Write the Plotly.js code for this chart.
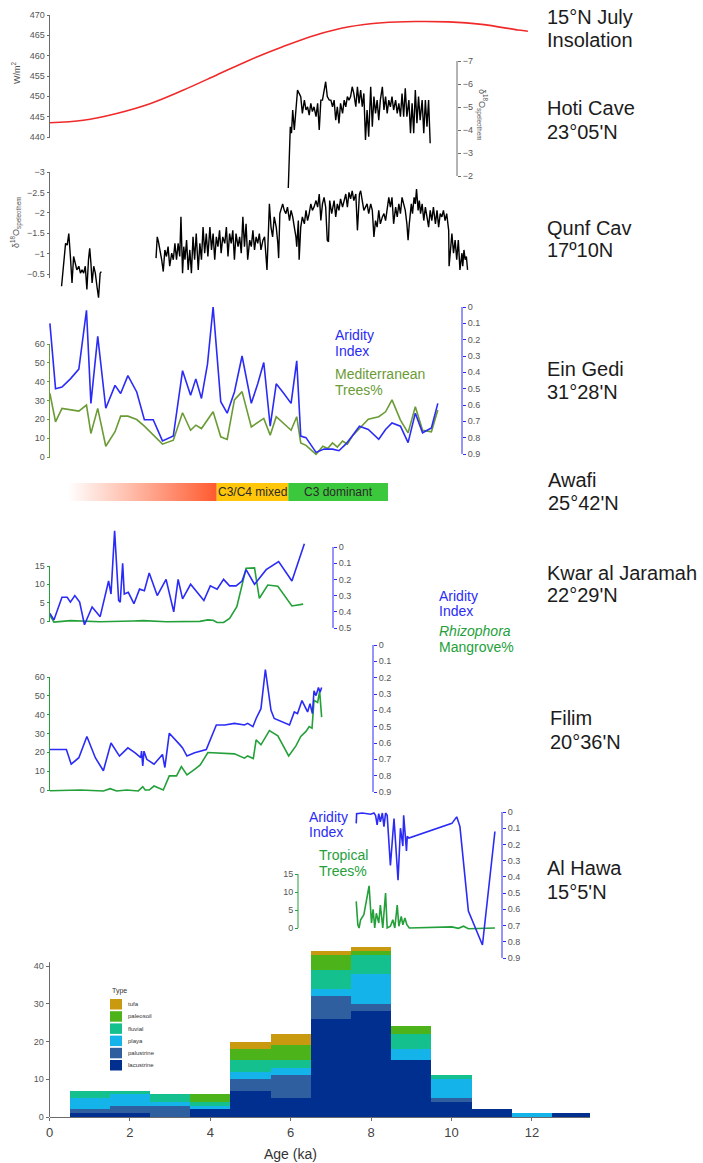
<!DOCTYPE html>
<html><head><meta charset="utf-8">
<script src="https://cdn.plot.ly/plotly-3.0.1.min.js"></script>
<style>html,body{margin:0;padding:0;background:#fff}#chart{width:703px;height:1163px}</style>
</head><body><div id="chart"></div>
<script>
// ================= DATA =================
// 15°N July insolation (W/m²)
const insolAge = [0,0.84,1.67,2.5,3.32,4.15,4.97,5.8,6.63,7.45,8.28,9.1,9.93,10.75,11.66,11.9];
const insolWm2 = [443.5,444.1,445.8,448.2,451.5,455.2,458.9,462.2,465.1,467.1,468.1,468.4,468.3,467.7,466.3,466.0];

// Hoti Cave δ18O
const hotiAge = [5.94,5.96,5.99,6.02,6.05,6.09,6.13,6.17,6.21,6.25,6.29,6.34,6.38,6.42,6.46,6.50,6.54,6.58,6.63,6.67,6.71,6.75,6.79,6.83,6.87,6.91,6.96,7.00,7.04,7.08,7.12,7.16,7.20,7.24,7.29,7.33,7.37,7.41,7.45,7.49,7.53,7.57,7.62,7.66,7.70,7.74,7.78,7.82,7.86,7.90,7.94,7.99,8.03,8.07,8.11,8.15,8.19,8.23,8.28,8.32,8.36,8.40,8.44,8.48,8.52,8.56,8.61,8.65,8.69,8.73,8.77,8.81,8.85,8.89,8.94,8.98,9.02,9.06,9.10,9.14,9.18,9.22,9.27,9.31,9.35,9.39,9.43,9.47];
const hotiD18O = [-1.48,-3.13,-4.14,-3.86,-4.87,-4.00,-4.87,-5.74,-5.59,-5.45,-4.72,-5.30,-4.87,-5.01,-4.65,-5.16,-4.80,-5.01,-4.58,-5.16,-4.00,-5.30,-5.30,-5.74,-6.10,-5.45,-5.30,-5.30,-5.01,-5.30,-4.43,-5.01,-4.29,-5.16,-4.72,-5.30,-5.01,-5.45,-5.30,-5.45,-5.88,-5.59,-5.01,-5.88,-5.16,-5.74,-5.01,-5.59,-3.57,-4.87,-3.71,-5.88,-4.14,-5.45,-4.72,-5.30,-4.43,-5.30,-5.88,-4.87,-5.45,-4.72,-5.30,-5.01,-5.45,-4.87,-5.30,-4.72,-5.16,-4.58,-5.59,-4.58,-5.81,-4.58,-5.30,-3.86,-5.16,-3.86,-5.74,-4.29,-5.45,-4.43,-5.30,-3.86,-5.30,-4.14,-5.30,-3.42];

// Qunf Cave δ18O, [age, value]
const qunfEarly = [[0.30,-0.20],[0.35,-0.69],[0.40,-1.25],[0.44,-1.21],[0.48,-1.49],[0.52,-0.93],[0.56,-0.28],[0.60,-0.93],[0.64,-0.77],[0.68,-0.60],[0.73,-0.69],[0.77,-0.52],[0.81,-0.60],[0.85,-0.52],[0.89,-0.69],[0.93,-0.12],[0.97,-0.85],[1.00,-1.13],[1.03,-0.77],[1.06,-0.28],[1.10,-0.69],[1.14,-0.52],[1.18,-0.20],[1.22,0.08],[1.26,-0.52],[1.29,-0.56]];
const qunfLate = [[2.65,-0.89],[2.68,-1.41],[2.71,-1.29],[2.75,-1.09],[2.79,-0.85],[2.83,-0.56],[2.87,-1.09],[2.91,-0.93],[2.95,-1.17],[2.99,-0.69],[3.04,-1.01],[3.08,-0.85],[3.12,-1.25],[3.16,-0.85],[3.20,-1.25],[3.24,-0.93],[3.27,-1.90],[3.31,-0.52],[3.34,-1.17],[3.37,-0.85],[3.41,-1.33],[3.45,-0.60],[3.49,-1.09],[3.53,-0.52],[3.57,-1.41],[3.61,-0.85],[3.65,-1.49],[3.70,-0.60],[3.74,-1.25],[3.78,-0.85],[3.82,-1.65],[3.86,-1.01],[3.90,-1.49],[3.94,-0.93],[3.99,-1.65],[4.03,-1.09],[4.07,-1.49],[4.11,-0.85],[4.15,-1.41],[4.19,-1.17],[4.23,-1.57],[4.27,-1.01],[4.31,-1.41],[4.36,-1.25],[4.40,-1.65],[4.44,-0.93],[4.48,-1.49],[4.52,-1.25],[4.56,-1.57],[4.60,-0.85],[4.64,-1.49],[4.69,-1.17],[4.73,-1.41],[4.77,-1.01],[4.81,-1.90],[4.85,-1.17],[4.89,-1.73],[4.93,-0.85],[4.98,-1.33],[5.02,-1.17],[5.06,-1.57],[5.10,-1.09],[5.14,-1.41],[5.18,-1.25],[5.22,-1.49],[5.26,-1.09],[5.31,-1.33],[5.35,-1.41],[5.39,-0.93],[5.41,-0.60],[5.45,-1.65],[5.47,-2.22],[5.51,-1.65],[5.55,-1.41],[5.59,-1.90],[5.64,-1.65],[5.68,-1.25],[5.70,-0.89],[5.73,-1.98],[5.78,-2.14],[5.80,-2.22],[5.84,-2.06],[5.88,-1.98],[5.92,-2.14],[5.97,-1.81],[6.01,-2.06],[6.05,-1.90],[6.09,-1.65],[6.13,-1.41],[6.15,-1.17],[6.19,-1.81],[6.21,-0.85],[6.25,-1.65],[6.29,-1.90],[6.34,-1.73],[6.38,-2.06],[6.42,-1.81],[6.46,-1.98],[6.50,-2.22],[6.54,-2.06],[6.58,-2.14],[6.63,-2.30],[6.67,-2.14],[6.71,-2.46],[6.75,-1.81],[6.79,-2.22],[6.83,-2.38],[6.87,-2.14],[6.91,-1.33],[6.94,-1.29],[6.97,-2.30],[7.02,-1.98],[7.08,-2.30],[7.12,-1.90],[7.16,-2.22],[7.20,-2.06],[7.24,-2.34],[7.29,-2.14],[7.33,-2.30],[7.37,-2.46],[7.41,-2.14],[7.45,-2.50],[7.49,-2.34],[7.53,-2.54],[7.57,-2.30],[7.62,-2.46],[7.66,-1.57],[7.68,-1.98],[7.71,-2.46],[7.74,-2.54],[7.78,-2.30],[7.82,-2.06],[7.86,-2.14],[7.90,-2.22],[7.94,-1.98],[7.99,-2.22],[8.03,-2.06],[8.07,-1.41],[8.11,-1.81],[8.15,-1.65],[8.19,-2.06],[8.23,-1.73],[8.28,-1.90],[8.32,-1.98],[8.36,-1.81],[8.40,-2.06],[8.44,-2.38],[8.48,-2.14],[8.52,-2.38],[8.56,-1.73],[8.61,-2.14],[8.65,-1.90],[8.69,-2.22],[8.73,-1.98],[8.77,-2.38],[8.81,-2.22],[8.85,-2.06],[8.89,-1.73],[8.92,-1.33],[8.95,-1.73],[9.00,-2.22],[9.03,-1.98],[9.07,-2.38],[9.10,-2.22],[9.13,-2.58],[9.17,-2.06],[9.20,-2.30],[9.23,-1.98],[9.27,-2.22],[9.31,-1.81],[9.35,-2.14],[9.39,-1.90],[9.43,-1.65],[9.47,-2.06],[9.51,-1.81],[9.55,-2.14],[9.60,-1.73],[9.64,-2.06],[9.68,-1.65],[9.72,-1.98],[9.76,-1.90],[9.80,-2.06],[9.84,-1.81],[9.88,-1.98],[9.93,-1.57],[9.94,-0.69],[9.98,-1.25],[10.01,-1.49],[10.05,-1.01],[10.09,-1.33],[10.13,-0.85],[10.17,-1.33],[10.21,-0.60],[10.26,-1.01],[10.28,-0.69],[10.31,-1.09],[10.34,-0.85],[10.37,-0.93],[10.40,-0.60]];

// Ein Gedi
const egAridAge = [0.01,0.15,0.31,0.52,0.73,0.92,1.03,1.20,1.40,1.63,1.77,1.95,2.17,2.36,2.58,2.81,3.08,3.31,3.51,3.64,3.78,3.93,4.07,4.26,4.42,4.60,4.79,5.02,5.18,5.33,5.49,5.64,5.83,6.01,6.15,6.25,6.38,6.63,6.83,7.04,7.20,7.37,7.53,7.71,7.93,8.19,8.36,8.52,8.73,8.92,9.10,9.28,9.50,9.66];
const egArid = [0.10,0.50,0.49,0.44,0.38,0.02,0.59,0.18,0.62,0.48,0.53,0.42,0.52,0.69,0.69,0.82,0.79,0.39,0.54,0.44,0.56,0.35,0.00,0.58,0.65,0.52,0.30,0.59,0.47,0.34,0.73,0.47,0.53,0.59,0.33,0.79,0.80,0.89,0.87,0.87,0.88,0.84,0.79,0.73,0.75,0.81,0.75,0.71,0.73,0.83,0.65,0.77,0.74,0.59];
const egTreeAge = [0.01,0.15,0.31,0.52,0.73,0.92,1.03,1.20,1.40,1.63,1.77,1.95,2.17,2.36,2.58,2.81,3.08,3.31,3.51,3.64,3.78,4.07,4.26,4.42,4.60,4.79,5.02,5.33,5.49,5.64,6.01,6.15,6.25,6.38,6.63,6.80,6.92,7.04,7.16,7.29,7.41,7.53,7.71,7.93,8.19,8.36,8.52,8.73,8.92,9.10,9.28,9.50,9.66];
const egTree = [33.8,18.7,25.8,24.9,24.4,27.6,12.5,25.8,5.7,13.4,21.7,21.7,19.9,16.4,11.6,6.8,8.9,23.5,14.2,16.9,15.1,24.0,10.7,9.3,30.3,34.7,16.0,20.5,11.6,21.4,14.2,21.4,7.5,6.2,1.4,5.7,4.5,7.5,5.3,8.5,6.8,11.0,15.1,20.1,21.4,24.0,30.3,19.6,12.8,26.7,14.2,13.4,24.9];

// Awafi vegetation stages
const awafiStart = [0.45, 4.16, 5.94];
const awafiEnd   = [4.16, 5.94, 8.42];
const awafiStage = ['', 'C3/C4 mixed', 'C3 dominant'];

// Kwar al Jaramah
const kwAridAge = [0.01,0.11,0.31,0.44,0.52,0.63,0.75,0.87,1.06,1.26,1.47,1.53,1.62,1.72,1.76,1.80,1.82,1.86,1.96,2.10,2.24,2.36,2.48,2.68,2.90,3.09,3.20,3.31,3.51,3.84,4.00,4.17,4.33,4.48,4.64,4.79,4.89,5.10,5.39,5.70,6.03,6.34];
const kwArid = [0.41,0.45,0.31,0.31,0.34,0.30,0.34,0.48,0.37,0.43,0.21,0.29,-0.10,0.33,0.34,0.16,0.10,0.29,0.28,0.35,0.26,0.27,0.16,0.30,0.20,0.40,0.20,0.32,0.23,0.33,0.24,0.26,0.20,0.24,0.24,0.21,0.14,0.23,0.14,0.09,0.21,-0.02];
const kwMangAge = [0.01,0.11,0.52,1.26,2.09,2.33,2.91,3.74,3.94,4.07,4.17,4.33,4.48,4.66,4.89,5.10,5.22,5.43,5.68,6.03,6.31];
const kwMang = [1.6,-0.3,0.1,-0.2,0.0,0.1,-0.2,-0.1,0.3,0.2,-0.4,-0.4,0.7,3.9,14.4,14.5,6.2,9.8,9.5,4.1,4.6];

// Filim
const fiAridAge = [0.01,0.42,0.54,0.73,0.93,1.14,1.34,1.53,1.74,1.95,2.13,2.27,2.29,2.32,2.35,2.42,2.60,2.81,2.87,2.98,3.24,3.31,3.42,3.61,3.90,4.15,4.36,4.60,4.85,4.93,5.06,5.14,5.26,5.37,5.51,5.59,5.97,6.09,6.17,6.28,6.42,6.48,6.54,6.58,6.63,6.69,6.73,6.77];
const fiArid = [0.64,0.64,0.73,0.69,0.56,0.69,0.77,0.60,0.68,0.63,0.66,0.69,0.65,0.74,0.65,0.70,0.73,0.67,0.75,0.54,0.61,0.63,0.68,0.66,0.64,0.49,0.49,0.48,0.49,0.48,0.50,0.45,0.39,0.15,0.40,0.45,0.49,0.41,0.42,0.34,0.41,0.36,0.42,0.28,0.31,0.26,0.29,0.26];
const fiMangAge = [0.01,0.52,0.77,1.34,1.51,1.67,1.92,2.21,2.32,2.38,2.48,2.60,2.83,2.98,3.16,3.28,3.42,3.61,3.75,3.94,4.19,4.60,4.85,4.93,5.07,5.14,5.26,5.47,5.68,5.95,6.13,6.25,6.38,6.46,6.53,6.58,6.67,6.72,6.77];
const fiMang = [-0.4,-0.4,0.0,-0.5,0.7,-0.5,0.0,-0.5,1.8,0.0,0.0,2.1,0.0,7.5,7.5,12.4,8.0,11.0,13.3,19.9,19.5,19.2,16.9,18.1,16.7,26.6,24.0,31.6,28.8,18.1,23.4,28.4,31.1,33.7,32.8,47.6,46.5,52.4,38.7];

// Al Hawa
const ahAridAge = [7.63,7.64,7.78,7.99,8.07,8.11,8.15,8.19,8.23,8.28,8.32,8.36,8.40,8.48,8.57,8.67,8.73,8.79,8.81,8.88,8.90,8.94,10.01,10.13,10.21,10.42,10.77,11.08];
const ahArid = [0.07,0.01,0.006,0.014,0.006,0.02,0.08,0.01,0.06,0.006,0.09,0.006,0.02,0.33,0.04,0.42,0.10,0.21,0.02,0.24,0.15,0.16,0.07,0.03,0.09,0.61,0.82,0.12];
const ahTreeAge = [7.63,7.67,7.70,7.74,7.82,7.95,8.01,8.05,8.09,8.13,8.19,8.23,8.29,8.36,8.40,8.48,8.54,8.59,8.65,8.69,8.75,8.79,8.84,8.89,8.95,10.01,10.17,10.30,10.42,11.08];
const ahTree = [7.4,0.9,0.0,2.3,3.7,11.7,1.4,5.2,0.0,4.1,1.4,6.4,0.0,9.7,0.0,0.5,2.3,0.0,6.4,0.5,3.2,0.9,2.8,0.9,0.0,0.3,-0.1,0.5,-0.2,0.0];

// Histogram of dated deposits (count per 1-ka bin)
const binCenters = [1,2,3,4,5,6,7,8,9,10,11,12,13];
const typeNames  = ['lacustrine','palustrine','playa','fluvial','paleosoil','tufa'];
const lacustrine = [1,1,0,2,7,5,26,28,15,4,2,0,1];
const palustrine = [1,2,3,0,3,6,6,2,0,1,0,0,0];
const playa      = [3,3,1,1,2,2,2,8,3,5,0,1,0];
const fluvial    = [2,1,2,1,3,2,5,5,4,1,0,0,0];
const paleosoil  = [0,0,0,2,3,4,4,1,2,0,0,0,0];
const tufa       = [0,0,0,0,2,3,1,1,0,0,0,0,0];
const typeCounts = [lacustrine, palustrine, playa, fluvial, paleosoil, tufa];

// Site labels
const siteName = ['15°N July','Hoti Cave','Qunf Cav','Ein Gedi','Awafi','Kwar al Jaramah','Filim','Al Hawa'];
const siteSub  = ['Insolation','23°05\'N','17º10N','31°28\'N','25°42\'N','22°29\'N','20°36\'N','15°5\'N'];

// ================= STYLE / LAYOUT =================
const W = 703, H = 1163;
const X0 = 49.5, PXK = 40.2;
const FONT = 'Liberation Sans, Arial, Helvetica, sans-serif';
const BLUE = '#2b2bf7', OLIVE = '#6b9b35', GREEN = '#24a03a', GREY = '#6a6a6a';
const typeColors = ['#002f8f','#2f5f9e','#14b4ea','#14c08e','#4db31b','#c9990f'];
const siteLabelY = [[17,40],[108,132],[228,250],[369,392],[480,503],[573,595],[718,742],[868,892]];
const siteLabelX = [545,545,545,545,546,545,548,545];

function yDomain(top, bot){ return [1 - bot/H, 1 - top/H]; }
function yRange(top, bot, v0, p0, v1, p1){ const s = (v1-v0)/(p1-p0); return [v0 + (bot-p0)*s, v0 + (top-p0)*s]; }
function yAx(top, bot, cal, side, posPx, ticks, color){
  return {
    domain: yDomain(top, bot), range: yRange(top, bot, cal[0], cal[1], cal[2], cal[3]), autorange: false,
    anchor: 'free', position: posPx / W, side: side,
    showgrid: false, zeroline: false, showline: false,
    ticks: 'outside', ticklen: 3, tickwidth: 1, tickcolor: color,
    tickvals: ticks, tickfont: {size: 9, color: '#555', family: FONT},
    automargin: false, fixedrange: true
  };
}
const shapes = [];
function axLine(yref, posPx, v0, v1, color){
  shapes.push({type:'line', xref:'paper', yref: yref, x0: posPx/W, x1: posPx/W, y0: v0, y1: v1, line:{color: color, width: 1}});
}
const arid9 = [0,0.1,0.2,0.3,0.4,0.5,0.6,0.7,0.8,0.9];
const arid5 = [0,0.1,0.2,0.3,0.4,0.5];

const layout = {
  width: W, height: H, margin: {l:0, r:0, t:0, b:0},
  paper_bgcolor: '#fff', plot_bgcolor: 'rgba(0,0,0,0)',
  showlegend: false, barmode: 'stack', bargap: 0,
  font: {family: FONT},
  xaxis: {domain: [0,1], range: [-X0/PXK, (W - X0)/PXK], visible: false, fixedrange: true},
  xaxis2: {domain: [X0/W, 590/W], range: [0, (590 - X0)/PXK], anchor: 'y13', showline: true, linecolor: GREY, linewidth: 1,
           ticks: 'outside', ticklen: 3, tickcolor: GREY, tickvals: [0,2,4,6,8,10,12], showgrid: false, zeroline: false,
           tickfont: {size: 13, color: '#444', family: FONT}, fixedrange: true},
  yaxis:  yAx(5, 145, [470,15,440,137], 'left', X0, [440,445,450,455,460,465,470], GREY),
  yaxis2: yAx(50, 195, [-7,61,-2,176], 'right', 457, [-7,-6,-5,-4,-3,-2], GREY),
  yaxis3: yAx(160, 305, [-3,172,-0.5,274], 'left', X0, [-3,-2.5,-2,-1.5,-1,-0.5], GREY),
  yaxis4: yAx(298, 462, [0,457,60,344], 'left', X0, [0,10,20,30,40,50,60], OLIVE),
  yaxis5: yAx(298, 462, [0,307,0.9,454], 'right', 462, arid9, BLUE),
  yaxis6: {domain: yDomain(483, 501), range: [0,1], visible: false, anchor: 'free', position: 0, fixedrange: true},
  yaxis7: yAx(520, 632, [15,566,0,621], 'left', X0, [0,5,10,15], GREEN),
  yaxis8: yAx(520, 632, [0,547,0.5,628], 'right', 333, arid5, BLUE),
  yaxis9: yAx(640, 800, [60,677,0,790], 'left', X0, [0,10,20,30,40,50,60], GREEN),
  yaxis10: yAx(640, 800, [0,645,0.9,792], 'right', 373, arid9, BLUE),
  yaxis11: yAx(805, 965, [15,874,0,928], 'left', 298, [0,5,10,15], GREEN),
  yaxis12: yAx(805, 965, [0,812,0.9,958], 'right', 502, arid9, BLUE),
  yaxis13: yAx(943, 1117, [0,1117,40,966], 'left', X0, [0,10,20,30,40], GREY),
  shapes: shapes,
  annotations: []
};
layout.yaxis13.anchor = 'x2';
delete layout.yaxis13.position;

axLine('y', X0, 440, 470, GREY);
axLine('y2', 457, -7, -2, GREY);
axLine('y3', X0, -3, -0.4, GREY);
axLine('y4', X0, 0, 60, OLIVE);
axLine('y5', 462, 0, 0.9, BLUE);
axLine('y7', X0, 0, 15, GREEN);
axLine('y8', 333, 0, 0.5, BLUE);
axLine('y9', X0, 0, 60, GREEN);
axLine('y10', 373, 0, 0.9, BLUE);
axLine('y11', 298, 0, 15, GREEN);
axLine('y12', 502, 0, 0.9, BLUE);
axLine('y13', X0, 0, 41, GREY);

// ================= TRACES =================
function line(x, y, yaxis, color, width, shape){
  return {type:'scatter', mode:'lines', x:x, y:y, xaxis:'x', yaxis:yaxis,
          line:{color:color, width:width||1.5, shape: shape||'linear'}, hoverinfo:'skip', showlegend:false};
}
const traces = [];
traces.push(line(insolAge, insolWm2, 'y', '#f02a2a', 1.6, 'spline'));
traces.push(line(hotiAge, hotiD18O, 'y2', '#000', 1.4));
traces.push(line(qunfEarly.map(p=>p[0]), qunfEarly.map(p=>p[1]), 'y3', '#000', 1.4));
traces.push(line(qunfLate.map(p=>p[0]), qunfLate.map(p=>p[1]), 'y3', '#000', 1.4));
traces.push(line(egTreeAge, egTree, 'y4', OLIVE, 1.6));
traces.push(line(egAridAge, egArid, 'y5', BLUE, 1.6));
traces.push(line(kwMangAge, kwMang, 'y7', GREEN, 1.6));
traces.push(line(kwAridAge, kwArid, 'y8', BLUE, 1.6));
traces.push(line(fiMangAge, fiMang, 'y9', GREEN, 1.6));
traces.push(line(fiAridAge, fiArid, 'y10', BLUE, 1.6));
traces.push(line(ahTreeAge, ahTree, 'y11', GREEN, 1.6));
traces.push(line(ahAridAge, ahArid, 'y12', BLUE, 1.6));

// Awafi stage bar
const awafiFill = [null, '#ffc60a', '#3cc83c'];
awafiStart.forEach((s, i) => {
  const e = awafiEnd[i];
  const t = {type:'scatter', mode:'lines', x:[s,e,e,s,s], y:[0,0,1,1,0], xaxis:'x', yaxis:'y6',
             fill:'toself', line:{width:0, color:'rgba(0,0,0,0)'}, hoverinfo:'skip', showlegend:false};
  if (i === 0) {
    t.fillgradient = {type:'horizontal', colorscale:[[0,'rgba(255,255,255,1)'],[0.35,'rgba(255,200,185,1)'],[1,'#ff5a2f']]};
    t.fillcolor = '#ff8a66';
  } else {
    t.fillcolor = awafiFill[i];
  }
  traces.push(t);
  if (awafiStage[i]) {
    layout.annotations.push({xref:'x', yref:'y6', x:(s+e)/2, y:0.5, text:awafiStage[i], showarrow:false,
      font:{size:12, color:'#2a2a2a', family:FONT}, xanchor:'center', yanchor:'middle'});
  }
});

// Histogram
typeNames.forEach((n, i) => {
  traces.push({type:'bar', name:n, x:binCenters, y:typeCounts[i], width:1, xaxis:'x2', yaxis:'y13',
               marker:{color:typeColors[i], line:{width:0}}, hoverinfo:'name+y', showlegend:false});
});

// ================= ANNOTATIONS =================
function ann(xpx, ypx, text, size, color, extra){
  layout.annotations.push(Object.assign({xref:'paper', yref:'paper', x:xpx/W, y:1-ypx/H, text:text, showarrow:false,
    xanchor:'left', yanchor:'middle', font:{size:size, color:color, family:FONT}}, extra||{}));
}
siteName.forEach((n, i) => {
  ann(siteLabelX[i], siteLabelY[i][0], n, 20, '#1c1c1c');
  ann(siteLabelX[i], siteLabelY[i][1], siteSub[i], 20, '#1c1c1c');
});
// axis titles
ann(16, 73, 'W/m<sup>2</sup>', 9, '#555', {textangle:-90, xanchor:'center'});
ann(482, 115, 'δ<sup>18</sup>O<sub>speleothem</sub>', 9, '#555', {textangle:90, xanchor:'center'});
ann(16, 222, 'δ<sup>18</sup>O<sub>speleothem</sub>', 9, '#555', {textangle:-90, xanchor:'center'});
// in-panel series labels
ann(333, 335, 'Aridity', 14, BLUE); ann(333, 351, 'Index', 14, BLUE);
ann(333, 374, 'Mediterranean', 14, OLIVE); ann(333, 390, 'Trees%', 14, OLIVE);
ann(437, 596, 'Aridity', 14, BLUE); ann(437, 611, 'Index', 14, BLUE);
ann(437, 631, '<i>Rhizophora</i>', 14, GREEN); ann(437, 647, 'Mangrove%', 14, GREEN);
ann(307, 817, 'Aridity', 14, BLUE); ann(307, 832, 'Index', 14, BLUE);
ann(317, 855, 'Tropical', 14, GREEN); ann(317, 871, 'Trees%', 14, GREEN);
// histogram x title
layout.annotations.push({xref:'x2', yref:'paper', x:6, y:1-1154/H, text:'Age (ka)', showarrow:false,
  xanchor:'center', yanchor:'middle', font:{size:14, color:'#333', family:FONT}});

// histogram key (Type)
ann(110, 991, 'Type', 7, '#333');
for (let k = 0; k < typeNames.length; k++) {
  const i = typeNames.length - 1 - k;          // tufa on top
  const top = 999 + k * 12.2;
  shapes.push({type:'rect', xref:'paper', yref:'paper', x0:110/W, x1:122/W, y0:1-(top+10.5)/H, y1:1-top/H,
               fillcolor:typeColors[i], line:{width:0}});
  ann(126, top + 5.2, typeNames[i], 6, '#333');
}

Plotly.newPlot('chart', traces, layout, {staticPlot:true, displayModeBar:false});
</script>
</body></html>
